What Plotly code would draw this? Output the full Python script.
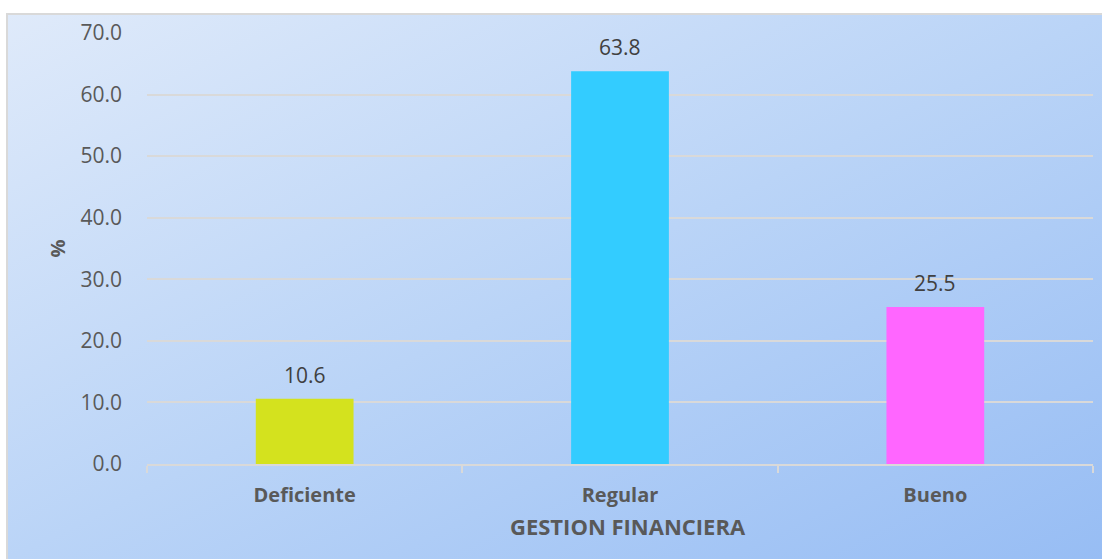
import base64
import plotly.graph_objects as go

categories = ["Deficiente", "Regular", "Bueno"]
values = [10.6, 63.8, 25.5]
bar_colors = ["#d4e21e", "#33ccff", "#ff66ff"]
y_tick_vals = [0, 10, 20, 30, 40, 50, 60, 70]
y_tick_text = [f"{v:.1f}" for v in y_tick_vals]
x_title = "GESTION FINANCIERA"
y_title = "%"

W, H = 1102, 559

svg = f'''<svg xmlns="http://www.w3.org/2000/svg" width="{W}" height="{H}" viewBox="0 0 {W} {H}" preserveAspectRatio="none">
<defs><linearGradient id="g" x1="0" y1="0" x2="1" y2="1">
<stop offset="0" stop-color="#dfeafa"/>
<stop offset="0.5" stop-color="#bad4f7"/>
<stop offset="1" stop-color="#97bdf4"/>
</linearGradient></defs>
<rect x="0" y="0" width="{W}" height="{H}" fill="url(#g)"/>
</svg>'''
src = "data:image/svg+xml;base64," + base64.b64encode(svg.encode()).decode()

FONT = "Open Sans"

fig = go.Figure()
fig.add_trace(go.Bar(
    x=categories, y=values, marker=dict(color=bar_colors, line=dict(width=0)),
    width=0.31, hoverinfo="skip",
))

for c, v in zip(categories, values):
    fig.add_annotation(x=c, y=v, text=f"{v:.1f}", showarrow=False,
                       yanchor="bottom", yshift=8,
                       font=dict(family=FONT, size=21, color="#404040"))

# x-axis title
fig.add_annotation(xref="paper", yref="paper", x=627.5 / W, y=1 - 526 / H,
                   xanchor="center", yanchor="middle", showarrow=False,
                   text=f"<b>{x_title}</b>",
                   font=dict(family=FONT, size=22, color="#595959"))

x0p, x1p = 147 / W, 1093 / W
y0p, y1p = (H - 464) / H, (H - 33) / H

fig.update_layout(
    template="none",
    width=W, height=H,
    margin=dict(l=0, r=0, t=0, b=0, pad=0),
    paper_bgcolor="white", plot_bgcolor="rgba(0,0,0,0)",
    showlegend=False,
    images=[dict(source=src, xref="paper", yref="paper", x=7 / W, y=1 - 14 / H,
                 sizex=1 - 7 / W, sizey=1 - 14 / H, xanchor="left", yanchor="top",
                 sizing="stretch", layer="below")],
    shapes=[dict(type="rect", xref="paper", yref="paper", x0=7 / W, x1=1 + 2 / W,
                 y0=-2 / H, y1=1 - 14 / H, line=dict(color="#d9d9d9", width=2),
                 fillcolor="rgba(0,0,0,0)", layer="above")],
    xaxis=dict(domain=[x0p, x1p], type="category", automargin=False,
               showline=True, linecolor="#d9d9d9", linewidth=2,
               ticks="outside", tickson="boundaries", ticklen=7, tickcolor="#d9d9d9", tickwidth=2,
               showgrid=False, ticklabelstandoff=12,
               tickfont=dict(family=FONT, size=20, color="#595959", weight="bold")),
    yaxis=dict(domain=[y0p, y1p], range=[0, 70], tickvals=y_tick_vals, ticktext=y_tick_text,
               automargin=False,
               showgrid=True, gridcolor="#d9d9d9", gridwidth=2,
               zeroline=False, showline=False, ticks="", ticklabelstandoff=24,
               tickfont=dict(family=FONT, size=21, color="#595959"),
               title=dict(text=f"<b>{y_title}</b>", standoff=9,
                          font=dict(family=FONT, size=20, color="#595959"))),
)

fig.write_html("out.html", config={"displayModeBar": False},
               post_script="document.body.style.margin='0';document.body.style.overflow='hidden';")
